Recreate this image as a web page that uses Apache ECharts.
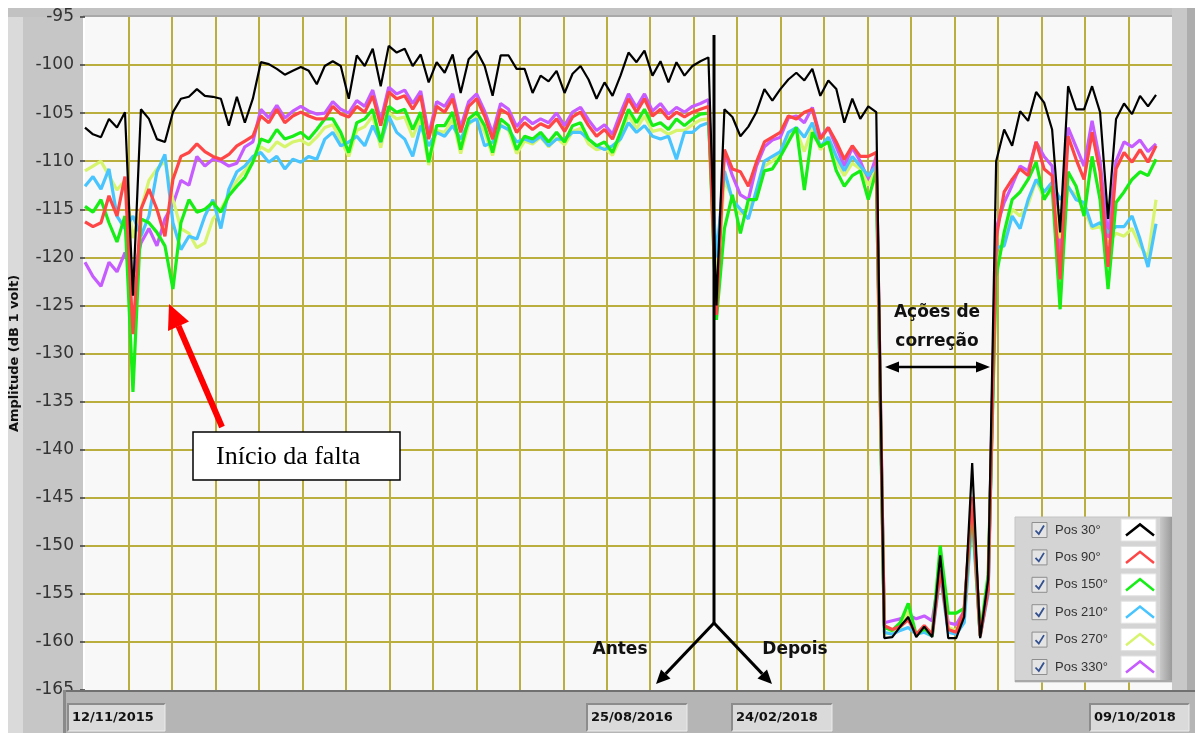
<!DOCTYPE html>
<html>
<head>
<meta charset="utf-8">
<script src="https://cdn.jsdelivr.net/npm/echarts@6/dist/echarts.min.js"></script>
<style>
  html, body { margin: 0; padding: 0; background: #ffffff; }
  #chart { width: 1195px; height: 733px; }
</style>
</head>
<body>
<div id="chart"></div>
<script>
// Probe positions, in legend order, and their trace colours
const seriesNames = ['Pos 30°', 'Pos 90°', 'Pos 150°', 'Pos 210°', 'Pos 270°', 'Pos 330°'];
const seriesColors = ['#000000', '#ff4646', '#16ee16', '#48c4ff', '#d6f46c', '#c65cff'];

// Dates shown in the scale boxes under the plot (start, end of "before", start of "after", end)
const dateLabels = ['12/11/2015', '25/08/2016', '24/02/2018', '09/10/2018'];

// Amplitude (dB re 1 V) per sample, one array per probe position
const pos30 = [
  -106.5, -107.2, -107.5, -105.6, -106.5, -104.9, -124, -104.6, -105.6, -107.7,
  -108, -104.9, -103.5, -103.3, -102.5, -103.2, -103.3, -103.5, -106.3, -103.3,
  -106, -103.5, -99.7, -99.9, -100.4, -101, -100.6, -100.2, -100.6, -102,
  -100.1, -99.6, -100.1, -103.5, -99, -100.1, -98.3, -102.2, -98, -98.7,
  -98.3, -100.1, -98.9, -101.8, -99.7, -100.8, -98.9, -102.9, -99.4, -98.5,
  -100.1, -103.2, -99, -99, -100.4, -100.4, -102.9, -101.1, -101.7, -100.6,
  -102.9, -100.9, -100.1, -101.5, -103.5, -101.8, -103.2, -101.1, -98.7, -99.7,
  -98.5, -101.1, -99.6, -101.8, -99.7, -101.1, -100.1, -99.6, -99.2, -125,
  -104.6, -105.4, -107.4, -106.4, -104.9, -102.5, -103.7, -102.5, -101.5, -100.8,
  -101.6, -100.4, -103.2, -101.6, -102.5, -106, -103.5, -105.6, -104.3, -104.9,
  -159.6, -159.5, -158.4, -157.4, -159.5, -158.4, -159.5, -151, -159.6, -159.6,
  -157.4, -141.4, -159.6, -153.5, -110, -106.7, -108.4, -104.8, -105.8, -102.8,
  -103.9, -106.7, -117.4, -102.2, -104.6, -104.6, -102.2, -104.9, -116, -105.6,
  -104, -105.1, -103.2, -104.3, -103.1
];
const pos90 = [
  -116.3, -116.8, -116.4, -113.6, -115.7, -111.6, -128, -115, -112.9, -115,
  -117.8, -111.9, -109.5, -109.1, -108.2, -109, -109.5, -109.8, -109.3, -108.4,
  -107.9, -107.4, -105.3, -106, -104.6, -106, -105.3, -104.9, -105.3, -105.6,
  -105.6, -104.3, -105.1, -105.4, -104.3, -104.9, -103.2, -106.3, -102.8, -103.5,
  -103.2, -104.6, -103.2, -107.7, -104.3, -104.9, -103.5, -107, -104.3, -103.5,
  -105.3, -107.7, -104.6, -105.1, -107, -106, -106.7, -106.1, -106.5, -105.6,
  -106.9, -105.4, -104.9, -106.3, -107.4, -106.7, -107.7, -105.6, -103.5, -104.9,
  -103.5, -105.3, -104.6, -105.6, -104.9, -105.4, -104.9, -104.6, -104.3, -126,
  -108.8, -110.8, -111.1, -112.6, -110.1, -108, -107.5, -107, -105.3, -105.6,
  -104.9, -104.6, -107.7, -106.5, -108, -109.8, -108.4, -109.5, -109.5, -109.1,
  -158.3, -158.7, -158.4, -157.7, -159.2, -158.3, -159.2, -152.5, -158.7, -159,
  -156.7, -144.9, -159.4, -154.6, -118, -113.2, -111.9, -110.8, -111.5, -108,
  -110.8, -111.5, -122.3, -107.4, -109.8, -111.9, -107, -111.1, -121, -110.8,
  -109.1, -110.1, -108.8, -110.1, -108.4
];
const pos150 = [
  -114.7, -115.3, -114, -116.4, -118.4, -115.7, -134, -116, -116.4, -117.4,
  -118.8, -123.3, -116.4, -114, -115.3, -115, -114.3, -115.3, -113.6, -112.6,
  -111.7, -110.1, -107.7, -108, -106.7, -107.7, -107.4, -107, -107.7, -106.7,
  -105.6, -105.6, -107, -109.1, -106, -105.6, -104.6, -108, -104.3, -104.9,
  -104.6, -106.7, -104.9, -110.1, -106.3, -106.3, -104.9, -108.8, -105.6, -104.9,
  -106.3, -109.1, -105.6, -106.3, -108.8, -107.4, -107.7, -107, -108, -107,
  -108, -106.3, -106, -107.7, -108.4, -108, -109.1, -107, -104.6, -106,
  -104.6, -106.3, -106, -106.7, -105.6, -106.3, -105.6, -105.1, -105, -126.5,
  -117, -113.5, -117.5, -114, -114, -111, -110.8, -109.5, -108, -106.5,
  -113, -107, -108.5, -108, -111, -112.6, -111.5, -111, -114, -111,
  -158.5, -158.8, -158, -156, -159.3, -158.6, -159.4, -150, -157, -157,
  -156.5, -146, -159.3, -153, -122, -117.4, -114, -113.2, -111.9, -110.1,
  -114, -112.6, -125.4, -111.1, -112.6, -115.7, -109.5, -114, -123.3, -114.3,
  -113.2, -111.9, -111.1, -111.5, -109.8
];
const pos210 = [
  -112.6, -111.6, -112.9, -110.8, -115.7, -117, -115.7, -117.8, -115.7, -111.1,
  -109.3, -116.4, -119.2, -117.8, -118.1, -115.7, -114, -117, -112.9, -111.1,
  -110.5, -109.5, -109.1, -110.1, -109.5, -110.8, -109.8, -110.1, -109.5, -109.8,
  -107.7, -107, -108.4, -108, -107.4, -108.4, -106.3, -108, -105.3, -107,
  -107.7, -109.5, -106.3, -108.4, -107, -107.4, -106.3, -107.7, -106, -105.6,
  -108.4, -108, -106.3, -106.7, -108, -107.7, -108, -107.4, -108.4, -107.7,
  -107.7, -107, -107, -107.7, -108.4, -108.8, -108.4, -107.7, -106, -107,
  -106.3, -107.4, -107.7, -107.4, -109.8, -107, -107, -106.3, -106, -120,
  -111, -114, -115, -116, -113, -110, -109.5, -109, -107, -106.5,
  -107.5, -106, -108.5, -107.5, -109.5, -111, -109.5, -110.5, -111.5, -110.5,
  -159, -159.2, -158.8, -158.5, -159.2, -159, -159.4, -153, -159, -159.2,
  -158, -147, -159.4, -155, -119, -118.8, -115.7, -117, -114, -111.9,
  -113.2, -112.2, -114, -112.6, -114, -114.3, -116.8, -116.4, -117.4, -116.8,
  -116.8, -115.7, -118.1, -121, -116.5
];
const pos270 = [
  -111, -110.5, -110, -111.5, -113, -112, -118, -115, -112, -110.8,
  -110, -114, -117, -117.5, -119, -118.5, -116, -115, -113.5, -112,
  -111, -110, -108.5, -109, -108, -108.5, -108, -107.8, -108.3, -107.5,
  -106.5, -106.2, -107.8, -109.5, -106.8, -106.4, -105.3, -108.6, -105, -105.6,
  -105.4, -107.5, -105.5, -110.4, -106.8, -107, -105.6, -109.2, -106.2, -105.4,
  -107, -109.4, -106.2, -106.8, -109.2, -107.9, -108.2, -107.5, -108.5, -107.6,
  -108.3, -106.9, -106.6, -108.2, -108.8, -108.6, -109.4, -107.6, -105.2, -106.6,
  -105.3, -106.9, -106.7, -107.2, -106.8, -106.8, -106.2, -105.7, -105.6, -123,
  -112, -113.8, -115.5, -115, -113.5, -110.5, -110, -109, -107.5, -106.8,
  -109, -106.5, -108.8, -107.8, -110, -111.5, -110.2, -110.8, -112.5, -110.8,
  -159.2, -159, -158.6, -156.8, -159.3, -158.8, -159.4, -152, -158.5, -158.8,
  -157.5, -146.5, -159.4, -154, -121, -118, -115, -115.7, -114.5, -112,
  -113.8, -113, -118, -112.8, -113.5, -115, -117, -116.8, -118.5, -117.5,
  -117.8, -117, -118.8, -120, -114
];
const pos330 = [
  -120.5, -122, -123, -120.5, -121.5, -119.5, -122, -118.5, -117, -118.8,
  -116, -114.5, -112, -112.5, -109.5, -110.5, -109.8, -110, -110.5, -110.2,
  -108.5, -108, -104.6, -105.5, -104.2, -105.5, -104.8, -104.3, -104.8, -105.1,
  -105, -103.8, -104.6, -105, -103.7, -104.3, -102.6, -105.8, -102.3, -103,
  -102.6, -104, -102.7, -107.2, -103.8, -104.3, -103, -106.5, -103.8, -103,
  -104.8, -107.1, -104, -104.6, -106.4, -105.4, -106.1, -105.6, -106, -105,
  -106.3, -104.9, -104.4, -105.7, -106.8, -106.2, -107.2, -105, -103, -104.4,
  -103, -104.8, -104, -105.1, -104.4, -104.9, -104.3, -104, -103.6, -122,
  -109, -111.5, -113.5, -114, -110.5, -108.5, -107.8, -107.5, -105.5, -105.3,
  -106, -104.4, -107.5, -106.5, -108.5, -110.5, -108.6, -110, -112, -109.5,
  -158, -157.8, -157.6, -157.2, -157.6, -157.3, -157.8, -152.5, -158, -158.2,
  -156.8, -145.5, -159.3, -154.5, -117, -114.3, -112.5, -110.5, -111, -108,
  -109.5, -110.5, -120, -106.5, -108.5, -110.5, -105.8, -110, -118, -110,
  -108, -108.5, -107.8, -109, -108.2
];

const seriesValues = [pos30, pos90, pos150, pos210, pos270, pos330];

const GRID_COLOR = '#b9ae3e';
const TEXT_DARK = '#333333';

// Traces: Pos 30° gets the highest z so it is drawn on top
const lineSeries = seriesNames.map((name, i) => ({
  name: name,
  type: 'line',
  showSymbol: false,
  symbol: 'none',
  animation: false,
  z: 10 - i,
  lineStyle: { color: seriesColors[i], width: i === 0 ? 2.2 : 3.2 },
  itemStyle: { color: seriesColors[i] },
  data: seriesValues[i].map((v, k) => [k, v])
})).reverse();

// ----- frame, legend panel, scale boxes and annotations -----
const graphics = [];

// grey frame around the plot, kept underneath the axis labels
graphics.push(
  { type: 'rect', z: -5, shape: { x: 8, y: 8, width: 75, height: 725 }, style: { fill: '#c6c6c6' } },
  { type: 'rect', z: -5, shape: { x: 8, y: 8, width: 15, height: 725 }, style: { fill: '#dadada' } },
  { type: 'rect', z: -5, shape: { x: 8, y: 8, width: 1187, height: 9 }, style: { fill: '#c2c2c2' } },
  { type: 'rect', z: -5, shape: { x: 83, y: 15, width: 1090, height: 2 }, style: { fill: '#a9a9a9' } },
  { type: 'rect', z: -5, shape: { x: 1172, y: 8, width: 23, height: 684 }, style: { fill: '#c8c8c8' } },
  { type: 'rect', z: -5, shape: { x: 1187, y: 8, width: 8, height: 684 }, style: { fill: '#adadad' } },
  { type: 'rect', z: 50, shape: { x: 63, y: 690, width: 1132, height: 43 }, style: { fill: '#b5b5b5' } },
  { type: 'rect', z: 50, shape: { x: 63, y: 690, width: 1132, height: 2 }, style: { fill: '#707070' } },
  { type: 'rect', z: 50, shape: { x: 63, y: 690, width: 3, height: 43 }, style: { fill: '#8a8a8a' } }
);

// scale boxes holding the dates
const dateBoxes = [
  { x: 68, w: 97 },
  { x: 587, w: 100 },
  { x: 732, w: 100 },
  { x: 1090, w: 99 }
];
dateLabels.forEach((label, i) => {
  const b = dateBoxes[i];
  graphics.push(
    { type: 'rect', z: 51, shape: { x: b.x, y: 704, width: b.w, height: 27 }, style: { fill: '#dadada' } },
    { type: 'polyline', z: 52, shape: { points: [[b.x, 731], [b.x, 704], [b.x + b.w, 704]] }, style: { stroke: '#8c8c8c', lineWidth: 2, fill: null } },
    { type: 'polyline', z: 52, shape: { points: [[b.x + b.w, 704], [b.x + b.w, 731], [b.x, 731]] }, style: { stroke: '#ececec', lineWidth: 1, fill: null } },
    { type: 'text', z: 53, style: { text: label, x: b.x + 4, y: 718, fill: '#111111', fontFamily: 'DejaVu Sans', fontWeight: 'bold', fontSize: 13, align: 'left', verticalAlign: 'middle' } }
  );
});

// legend panel with check boxes and white swatch frames
const LEGEND_TOP = 522;
const ROW_STEP = 27.4;
graphics.push(
  { type: 'rect', z: 100, shape: { x: 1015, y: 517, width: 157, height: 165 }, style: { fill: '#d4d4d4', stroke: '#c4c4c4', lineWidth: 1 } },
  {
    type: 'rect', z: 101, shape: { x: 1160, y: 517, width: 12, height: 165 },
    style: { fill: new echarts.graphic.LinearGradient(0, 0, 1, 0, [{ offset: 0, color: '#c8c8c8' }, { offset: 1, color: '#9a9a9a' }]) }
  },
  { type: 'rect', z: 101, shape: { x: 1015, y: 680, width: 157, height: 2 }, style: { fill: '#a8a8a8' } }
);
seriesNames.forEach((name, i) => {
  const cy = LEGEND_TOP + 8 + i * ROW_STEP;
  graphics.push(
    { type: 'rect', z: 102, shape: { x: 1032, y: cy - 7.5, width: 15, height: 15 }, style: { fill: '#e4e4e4', stroke: '#8e8e8e', lineWidth: 1 } },
    { type: 'polyline', z: 103, shape: { points: [[1035.5, cy + 0.5], [1038.8, cy + 4], [1044, cy - 4.5]] }, style: { stroke: '#33508f', lineWidth: 1.8, fill: null } },
    { type: 'rect', z: 102, shape: { x: 1121, y: cy - 11, width: 35, height: 22 }, style: { fill: '#ffffff', stroke: '#e2e2e2', lineWidth: 1 } }
  );
});

// "Início da falta" callout
graphics.push(
  { type: 'line', z: 100, shape: { x1: 222, y1: 427, x2: 178.5, y2: 326 }, style: { stroke: '#ff0000', lineWidth: 6 } },
  { type: 'polygon', z: 100, shape: { points: [[169, 304], [189, 321.5], [168, 331]] }, style: { fill: '#ff0000' } },
  { type: 'rect', z: 100, shape: { x: 193, y: 432, width: 207, height: 48 }, style: { fill: '#ffffff', stroke: '#000000', lineWidth: 1.5 } },
  { type: 'text', z: 101, style: { text: 'Início da falta', x: 216, y: 457, fill: '#000000', fontFamily: 'Liberation Serif', fontSize: 26, align: 'left', verticalAlign: 'middle' } }
);

// before / after divider
graphics.push(
  { type: 'line', z: 100, shape: { x1: 714, y1: 35, x2: 714, y2: 624 }, style: { stroke: '#000000', lineWidth: 3 } },
  { type: 'line', z: 100, shape: { x1: 714, y1: 623, x2: 665.6, y2: 673.9 }, style: { stroke: '#000000', lineWidth: 3 } },
  { type: 'polygon', z: 100, shape: { points: [[656, 684], [670.5, 678.5], [661, 669.5]] }, style: { fill: '#000000' } },
  { type: 'line', z: 100, shape: { x1: 714, y1: 623, x2: 762.3, y2: 673.9 }, style: { stroke: '#000000', lineWidth: 3 } },
  { type: 'polygon', z: 100, shape: { points: [[772, 684], [767, 669.5], [757.5, 678.5]] }, style: { fill: '#000000' } },
  { type: 'text', z: 101, style: { text: 'Antes', x: 620, y: 650, fill: '#111111', fontFamily: 'DejaVu Sans', fontWeight: 'bold', fontSize: 17, align: 'center', verticalAlign: 'middle' } },
  { type: 'text', z: 101, style: { text: 'Depois', x: 795, y: 650, fill: '#111111', fontFamily: 'DejaVu Sans', fontWeight: 'bold', fontSize: 17, align: 'center', verticalAlign: 'middle' } }
);

// corrective-action span
graphics.push(
  { type: 'text', z: 101, style: { text: 'Ações de', x: 937, y: 313, fill: '#111111', fontFamily: 'DejaVu Sans', fontWeight: 'bold', fontSize: 17, align: 'center', verticalAlign: 'middle' } },
  { type: 'text', z: 101, style: { text: 'correção', x: 937, y: 342, fill: '#111111', fontFamily: 'DejaVu Sans', fontWeight: 'bold', fontSize: 17, align: 'center', verticalAlign: 'middle' } },
  { type: 'line', z: 100, shape: { x1: 896, y1: 367, x2: 979, y2: 367 }, style: { stroke: '#000000', lineWidth: 2.5 } },
  { type: 'polygon', z: 100, shape: { points: [[885, 367], [899, 361.5], [899, 372.5]] }, style: { fill: '#000000' } },
  { type: 'polygon', z: 100, shape: { points: [[990, 367], [976, 361.5], [976, 372.5]] }, style: { fill: '#000000' } }
);

const SAMPLE_MAX = 136;

const option = {
  backgroundColor: '#ffffff',
  animation: false,
  grid: {
    left: 83, top: 17, right: 23, bottom: 43,
    show: true, backgroundColor: '#f8f8f8', borderWidth: 0
  },
  xAxis: {
    type: 'value',
    min: 0,
    max: SAMPLE_MAX,
    interval: SAMPLE_MAX / 25,
    axisLine: { show: false },
    axisTick: { show: false },
    axisLabel: { show: false },
    splitLine: { show: true, showMinLine: false, showMaxLine: false, lineStyle: { color: GRID_COLOR, width: 2 } }
  },
  yAxis: {
    type: 'value',
    min: -165,
    max: -95,
    interval: 5,
    name: 'Amplitude (dB 1 volt)',
    nameLocation: 'middle',
    nameGap: 64,
    nameTextStyle: { color: '#111111', fontFamily: 'DejaVu Sans', fontWeight: 'bold', fontSize: 13 },
    axisLine: { show: false },
    axisTick: { show: true, length: 5, lineStyle: { color: '#3a3a3a', width: 1.5 } },
    axisLabel: { margin: 11, color: TEXT_DARK, fontFamily: 'DejaVu Sans', fontSize: 17 },
    splitLine: { show: true, showMinLine: false, showMaxLine: false, lineStyle: { color: GRID_COLOR, width: 2 } }
  },
  legend: {
    orient: 'vertical',
    left: 1055,
    top: LEGEND_TOP,
    padding: 0,
    itemGap: ROW_STEP - 16,
    itemWidth: 28,
    itemHeight: 12,
    align: 'right',
    icon: 'path://M0,12L15,0L30,12',
    selectedMode: false,
    z: 110,
    formatter: n => '{t|' + n + '}',
    textStyle: {
      color: TEXT_DARK, fontFamily: 'Liberation Sans', fontSize: 13, lineHeight: 16,
      rich: { t: { width: 66, align: 'left', color: TEXT_DARK, fontFamily: 'Liberation Sans', fontSize: 13, lineHeight: 16 } }
    },
    data: seriesNames.map((n, i) => ({
      name: n,
      itemStyle: { color: 'rgba(0,0,0,0)', borderColor: seriesColors[i], borderWidth: 2.5 }
    }))
  },
  graphic: { elements: graphics },
  series: lineSeries
};

const chart = echarts.init(document.getElementById('chart'), null, { renderer: 'canvas' });
chart.setOption(option);
</script>
</body>
</html>
